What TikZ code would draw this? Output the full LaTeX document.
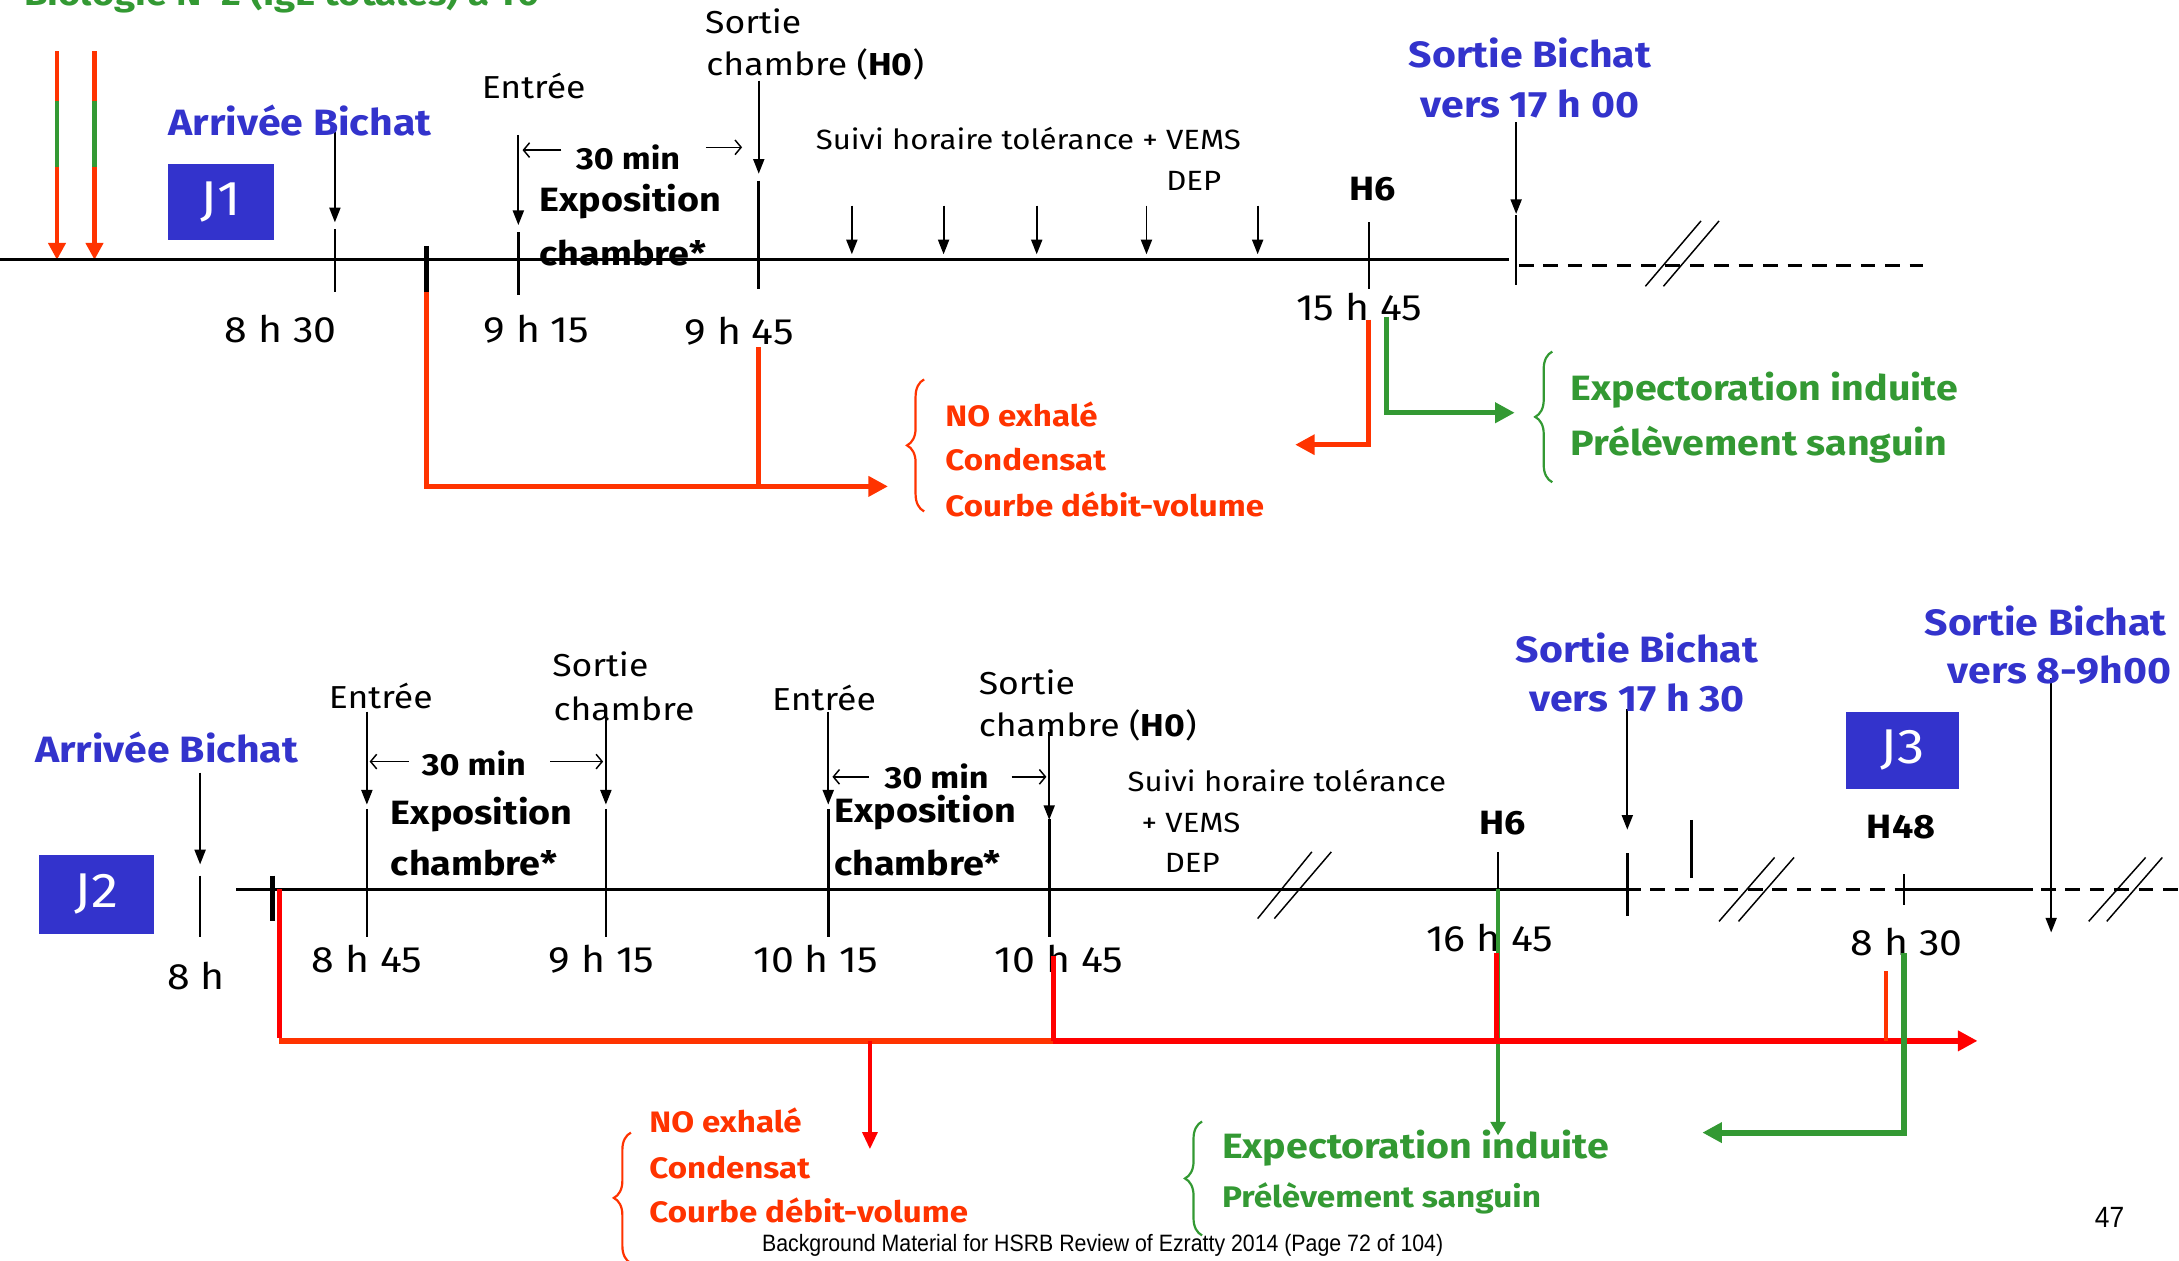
\documentclass[tikz,border=0pt]{standalone}
\usepackage{fontspec}
\setmainfont[FakeStretch=1.12]{Fira Sans}
\newfontfamily\footfont[FakeStretch=0.9]{Liberation Sans}
\usetikzlibrary{arrows.meta,decorations.pathreplacing}
\definecolor{bichat}{RGB}{51,51,204}
\definecolor{nored}{RGB}{255,51,0}
\definecolor{purered}{RGB}{255,0,0}
\definecolor{biogreen}{RGB}{51,153,51}

\begin{document}
\begin{tikzpicture}[
  x=0.02cm, y=-0.02cm,
  lbl/.style={font=\fontsize{13}{15}\selectfont, inner sep=0pt},
  small/.style={font=\fontsize{11.4}{13}\selectfont, inner sep=0pt},
  hourtxt/.style={font=\fontsize{15}{17}\selectfont, inner sep=0pt},
  expo/.style={font=\fontsize{13.8}{16}\selectfont\bfseries, inner sep=0pt},
  durtxt/.style={font=\fontsize{12.5}{15}\selectfont\bfseries, inner sep=0pt},
  bichattxt/.style={font=\fontsize{15}{17}\selectfont\bfseries, text=bichat, inner sep=0pt},
  daybox/.style={fill=bichat, text=white, minimum width=1.6cm, minimum height=1.12cm, font=\fontsize{20}{22}\selectfont, inner sep=0pt},
  redtxt/.style={font=\fontsize{12.1}{14}\selectfont\bfseries, text=nored, inner sep=0pt, anchor=west},
  greentxt/.style={font=\fontsize{14.4}{17}\selectfont\bfseries, text=biogreen, inner sep=0pt, anchor=west},
  tline/.style={line width=1.3pt},
  tline2/.style={line width=0.9pt},
  tickl/.style={line width=1.1pt},
  darr/.style={-{Triangle[length=6pt,width=4.5pt]}, line width=0.8pt},
  durarr/.style={-{Straight Barb[length=2.5pt,width=6pt]}, line width=0.6pt},
  dashline/.style={dash pattern=on 6pt off 4pt, line width=0.9pt},
  brk/.style={line width=0.6pt},
  redgo/.style={nored, line width=2pt, -{Triangle[length=8pt,width=8pt]}},
  greengo/.style={biogreen, line width=2pt, -{Triangle[length=8pt,width=8pt]}},
  bracel/.style={decorate, decoration={brace, amplitude=7pt}, line width=0.9pt}
]
\useasboundingbox (0,0) rectangle (1568,907);

% title (cut by the page edge)
\node[anchor=base west, font=\fontsize{14}{16}\selectfont\bfseries, text=biogreen, inner sep=0pt] (titre) at (17,4) {Biologie N°2 (IgE totales) à T0};

% left marks
\coordinate (r1) at (41,187);
\coordinate (r2) at (68,187);
\foreach \c in {r1,r2} {
  \draw[nored, line width=2pt] (\c) ++(0,-150) -- ++(0,36);
  \draw[biogreen, line width=2pt] (\c) ++(0,-114) -- ++(0,47);
  \draw[nored, line width=2pt, -{Triangle[length=7pt,width=7pt]}] (\c) ++(0,-67) -- (\c);
}

% ---------------- J1 ----------------
\coordinate (j1a) at (0,187);
\coordinate (j1b) at (1086,187);
\coordinate (j1c) at (1093,191);
\coordinate (j1d) at (1384,191);
\draw[tline] (j1a) -- (j1b);
\draw[dashline] (j1c) -- (j1d);
\draw[brk] (1184,206) -- (1224,159);
\draw[brk] (1197,206) -- (1237,159);

\coordinate (h830) at (241,187);
\coordinate (hgo) at (307,187);
\coordinate (h915) at (373,187);
\coordinate (h945) at (546,187);
\coordinate (h1545) at (985,187);
\coordinate (h1700) at (1091,187);

\draw[tickl] (h830) ++(0,-22) -- ++(0,45);
\draw[line width=2pt] (hgo) ++(0,-10) -- ++(0,33);
\draw[tickl] (h915) ++(0,-20) -- ++(0,45);
\draw[tickl] (h945) ++(0,-57) -- ++(0,78);
\draw[tickl] (h1545) ++(0,-27) -- ++(0,48);
\draw[tickl] (h1700) ++(0,-32) -- ++(0,50);

\draw[darr] (h830) ++(0,-92) -- ++(0,65);
\draw[darr] (h915) ++(0,-90) -- ++(0,65);
\draw[darr] (h945) ++(0,-129) -- ++(0,67);
\draw[darr] (h1700) ++(0,-99) -- ++(0,66);
\foreach \x in {613,679,746,825,905} {
  \coordinate (s\x) at (\x,187);
  \draw[darr] (s\x) ++(0,-39) -- ++(0,35);
}
\draw[durarr] (h915) ++(31,-79) -- ++(-28,0);
\draw[durarr] (h945) ++(-38,-81) -- ++(26,0);

\node[bichattxt] (arr1) at (216,87) {Arrivée Bichat};
\node[daybox, minimum width=1.52cm, minimum height=1.1cm] (j1) at (159,145.5) {J1};
\node[lbl] (ent1) at (384,62) {Entrée};
\node[lbl] (sor1) at (542,15) {Sortie};
\node[lbl, anchor=west] (ch1) at (508,46) {chambre (\textbf{H0})};
\node[durtxt] (dur1) at (452,113) {30 min};
\node[expo, anchor=west] (exp1) at (388,145) {Exposition};
\node[expo, anchor=west] (cha1) at (388,182) {chambre*};
\node[small] (suivi1) at (740,100) {Suivi horaire tolérance + VEMS};
\node[small] (dep1) at (859,130) {DEP};
\node[expo] (h61) at (988,136) {H6};
\node[bichattxt] (out1a) at (1101,38) {Sortie Bichat};
\node[bichattxt] (out1b) at (1101,75) {vers 17 h 00};

\node[hourtxt] (t830) at (202,237) {8 h 30};
\node[hourtxt] (t915) at (386,237) {9 h 15};
\node[hourtxt] (t945) at (532,238) {9 h 45};
\node[hourtxt] (t1545) at (978,221) {15 h 45};

% samples J1
\coordinate (mes1) at (639,350);
\coordinate (back1) at (932,320);
\coordinate (exg1) at (1090,297);
\draw[redgo] (hgo) ++(0,23) |- (mes1);
\draw[nored, line width=2pt] (h945) ++(0,63) -- ++(0,100);
\draw[redgo] (h1545) ++(0,43) |- (back1);
\draw[greengo] (h1545) ++(13,41) |- (exg1);

\draw[bracel, nored] (665,368) -- (665,273);
\node[redtxt] (no1) at (680,298) {NO exhalé};
\node[redtxt] (cond1) at (680,331) {Condensat};
\node[redtxt] (cdv1) at (680,363) {Courbe débit-volume};
\draw[bracel, biogreen] (1117,347) -- (1117,253);
\node[greentxt] (ei1) at (1130,281) {Expectoration induite};
\node[greentxt] (ps1) at (1130,320) {Prélèvement sanguin};

% ---------------- J2 / J3 ----------------
\coordinate (k1) at (170,640);
\coordinate (k2) at (1170,640);
\coordinate (k3) at (1568,640);
\coordinate (k4) at (1463,640);
\draw[tline2] (k1) -- (k2);
\draw[dashline] (k2) -- (k3);

\coordinate (g800) at (144,640);
\coordinate (ggo) at (196,640);
\coordinate (g845) at (264,640);
\coordinate (g915) at (436,640);
\coordinate (g1015) at (596,640);
\coordinate (g1045) at (755,640);
\coordinate (g1645) at (1078,640);
\coordinate (g1730) at (1171,640);
\coordinate (gx) at (1217,611);
\coordinate (g830) at (1370,640);
\coordinate (g900) at (1476,640);
\draw[tline2] (g830) -- (k4);

\draw[tickl] (g800) ++(0,-10) -- ++(0,44);
\draw[line width=2pt] (ggo) ++(0,-10) -- ++(0,33);
\foreach \c in {g845,g915,g1015} \draw[tickl] (\c) ++(0,-58) -- ++(0,92);
\draw[tickl] (g1045) ++(0,-51) -- ++(0,85);
\draw[tickl] (g1645) ++(0,-27) -- ++(0,30);
\draw[tickl] (g1730) ++(0,-26) -- ++(0,45);
\draw[tickl] (gx) ++(0,-21) -- ++(0,42);
\draw[tickl] (g830) ++(0,-11) -- ++(0,22);

\draw[darr] (g800) ++(0,-84) -- ++(0,66);
\draw[darr] (g845) ++(0,-128) -- ++(0,67);
\draw[darr] (g915) ++(0,-127) -- ++(0,66);
\draw[darr] (g1015) ++(0,-128) -- ++(0,67);
\draw[darr] (g1045) ++(0,-113) -- ++(0,63);
\draw[darr] (g1730) ++(0,-130) -- ++(0,87);
\draw[darr] (g900) ++(0,-152) -- ++(0,183);

\draw[durarr] (g845) ++(30,-92) -- ++(-28,0);
\draw[durarr] (g915) ++(-40,-92) -- ++(38,0);
\draw[durarr] (g1015) ++(29,-81) -- ++(-26,0);
\draw[durarr] (g1045) ++(-27,-81) -- ++(25,0);

\draw[brk] (905,661) -- (944,613);
\draw[brk] (917,661) -- (958,613);
\draw[brk] (1237,663) -- (1277,617);
\draw[brk] (1251,663) -- (1291,617);
\draw[brk] (1503,663) -- (1544,617);
\draw[brk] (1516,663) -- (1556,617);

\node[bichattxt] (arr2) at (120,538) {Arrivée Bichat};
\node[daybox, minimum width=1.66cm, minimum height=1.14cm] (j2) at (69.5,643.5) {J2};
\node[daybox, minimum width=1.64cm, minimum height=1.12cm] (j3) at (1369,540) {J3};
\node[lbl] (ent2) at (274,501) {Entrée};
\node[lbl] (sor2) at (432,478) {Sortie};
\node[lbl, anchor=west] (ch2) at (398,510) {chambre};
\node[durtxt] (dur2) at (341,549) {30 min};
\node[expo, anchor=west] (exp2) at (281,586) {Exposition};
\node[expo, anchor=west] (cha2) at (281,621) {chambre*};
\node[lbl] (ent3) at (593,502) {Entrée};
\node[lbl, anchor=west] (sor3) at (704,491) {Sortie};
\node[lbl, anchor=west] (ch3) at (704,522) {chambre (\textbf{H0})};
\node[durtxt] (dur3) at (674,559) {30 min};
\node[expo, anchor=west] (exp3) at (600,585) {Exposition};
\node[expo, anchor=west] (cha3) at (600,621) {chambre*};
\node[small] (suivi2) at (926,562) {Suivi horaire tolérance};
\node[small] (vems2) at (857,592) {+ VEMS};
\node[small] (dep2) at (858,621) {DEP};
\node[expo] (h62) at (1081,592) {H6};
\node[expo] (h48) at (1368,595) {H48};
\node[bichattxt] (out2a) at (1178,466) {Sortie Bichat};
\node[bichattxt] (out2b) at (1178,502) {vers 17 h 30};
\node[bichattxt] (out3a) at (1472,447) {Sortie Bichat};
\node[bichattxt] (out3b) at (1482,482) {vers 8-9h00};

\node[hourtxt] (t800) at (141,702) {8 h};
\node[hourtxt] (t845) at (264,690) {8 h 45};
\node[hourtxt] (t915b) at (433,690) {9 h 15};
\node[hourtxt] (t1015) at (587,690) {10 h 15};
\node[hourtxt] (t1045) at (762,690) {10 h 45};
\node[hourtxt] (t1645) at (1072,675) {16 h 45};
\node[hourtxt] (t830b) at (1372,678) {8 h 30};

% samples J2
\coordinate (m0) at (201,749);
\coordinate (m1) at (758,749);
\coordinate (m2) at (1423,749);
\coordinate (m3) at (626,749);
\coordinate (back2) at (1225,815);
\draw[biogreen, line width=1.8pt, -{Triangle[length=5.5pt,width=6pt]}] (g1645) -- ++(0,177);
\draw[purered, line width=1.8pt] (ggo) ++(5,0) -- ++(0,107);
\draw[nored, line width=2.4pt] (m0) -- (m1);
\draw[purered, line width=2.4pt, -{Triangle[length=8pt,width=8pt]}] (m1) -- (m2);
\draw[purered, line width=1.8pt] (m1) -- ++(0,-61);
\draw[purered, line width=1.8pt] (g1645) ++(-1,46) -- ++(0,63);
\draw[nored, line width=1.8pt] (g830) ++(-13,59) -- ++(0,50);
\draw[purered, line width=1.6pt, -{Triangle[length=7pt,width=6pt]}] (m3) -- ++(0,78);
\draw[greengo, line width=2.4pt] (g830) ++(0,46) |- (back2);

\draw[bracel, nored] (454,909) -- (454,815);
\node[redtxt] (no2) at (467,806) {NO exhalé};
\node[redtxt] (cond2) at (467,840) {Condensat};
\node[redtxt] (cdv2) at (467,871) {Courbe débit-volume};
\draw[bracel, biogreen] (865,889) -- (865,807);
\node[greentxt] (ei2) at (879,826) {Expectoration induite};
\node[greentxt, font=\fontsize{12.2}{15}\selectfont\bfseries] (ps2) at (879,862) {Prélèvement sanguin};

% footer
\node[font=\footfont\fontsize{9.7}{11}\selectfont, anchor=west, inner sep=0pt] (foot) at (548,896) {Background Material for HSRB Review of Ezratty 2014 (Page 72 of 104)};
\node[font=\footfont\fontsize{12}{14}\selectfont, inner sep=0pt] (pnum) at (1518,876) {47};

\end{tikzpicture}
\end{document}
